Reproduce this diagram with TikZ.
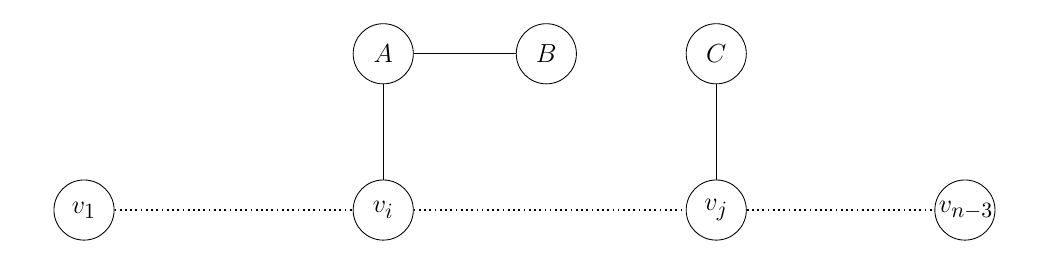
\documentclass[tikz,border=0pt]{standalone}
\usepackage{tikz}
\DeclareMathSizes{12}{12}{10}{8}
\tikzset{
  vertice/.style = {circle, draw, inner sep=0pt, minimum size=0.97cm, text width=0.84cm, align=center, font=\large},
  arco/.style    = {semithick},
  cammino/.style = {line width=0.8pt, dash pattern=on 0.8pt off 1.6pt}
}
\begin{document}
\begin{tikzpicture}
  \useasboundingbox (0,0) rectangle (16.9,4.097);
  \node[vertice] (v1) at ( 1.355,0.71) {$v_1$};
  \node[vertice] (vi) at ( 6.18, 0.71) {$v_i$};
  \node[vertice] (vj) at (11.55, 0.71) {$v_j$};
  \node[vertice] (vn) at (15.56, 0.71) {$v_{n-3}$};
  \node[vertice] (A)  at ( 6.18, 3.23) {$A$};
  \node[vertice] (B)  at ( 8.81, 3.23) {$B$};
  \node[vertice] (C)  at (11.55, 3.23) {$C$};
  \draw[arco] (A)--(B); \draw[arco] (A)--(vi); \draw[arco] (C)--(vj);
  \draw[cammino] (v1)--(vi); \draw[cammino] (vi)--(vj); \draw[cammino] (vj)--(vn);
\end{tikzpicture}
\end{document}
